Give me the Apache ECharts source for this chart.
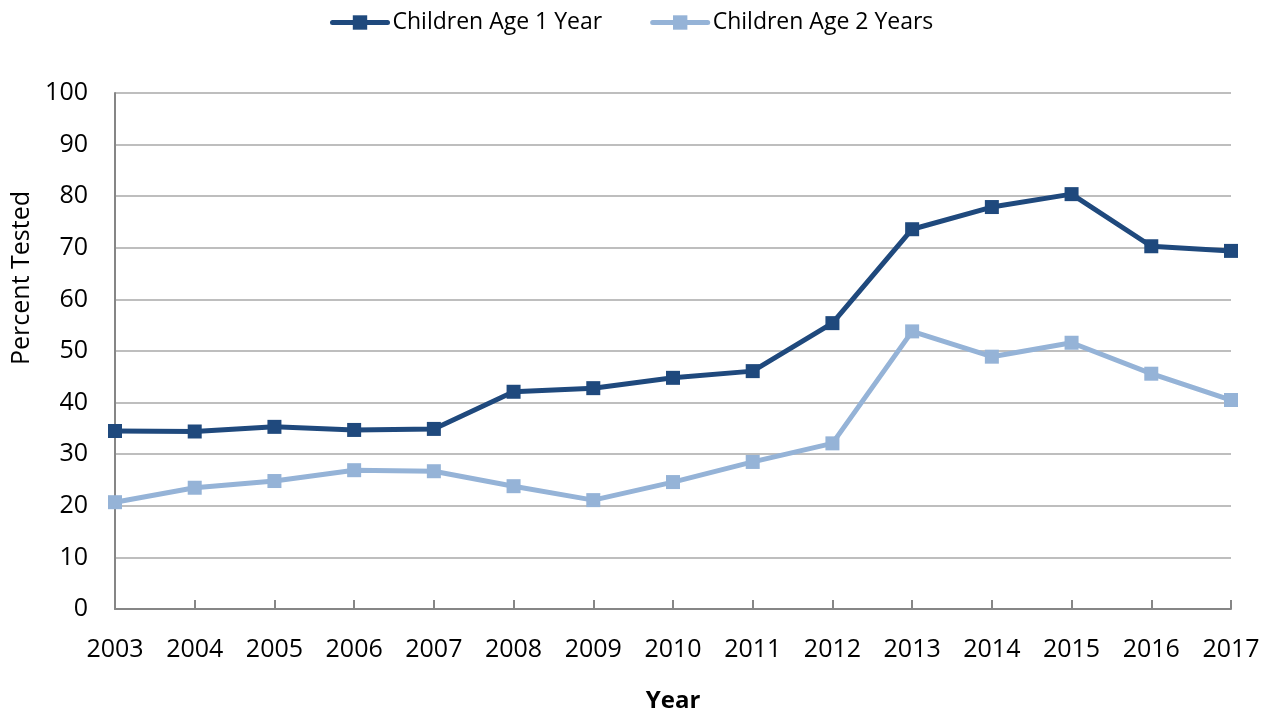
<!DOCTYPE html>
<html><head><meta charset="utf-8">
<script src="https://cdn.jsdelivr.net/npm/echarts@6/dist/echarts.min.js"></script>
<style>html,body{margin:0;padding:0;background:#fff}#c{width:1274px;height:710px}</style>
</head><body><div id="c"></div>
<script>
const years = ['2003','2004','2005','2006','2007','2008','2009','2010','2011','2012','2013','2014','2015','2016','2017'];
const age1 = [34.5,34.4,35.3,34.7,34.9,42.1,42.8,44.8,46.1,55.4,73.6,77.9,80.4,70.3,69.4];
const age2 = [20.7,23.5,24.8,26.9,26.7,23.8,21.1,24.6,28.5,32.1,53.8,48.9,51.6,45.6,40.5];
const font = 'Open Sans';
const chart = echarts.init(document.getElementById('c'));
chart.setOption({
  animation: false,
  textStyle: {fontFamily: font},
  legend: {
    top: 11, left: 330, padding: 0, itemWidth: 55, itemHeight: 18, itemGap: 48,
    lineStyle: {width: 5, cap: 'round'},
    textStyle: {fontSize: 23, color: '#000', fontFamily: font},
    data: ['Children Age 1 Year', 'Children Age 2 Years']
  },
  grid: {left: 115, right: 43, top: 93, bottom: 101, outerBoundsMode: 'none', containLabel: false},
  xAxis: {
    type: 'category', data: years, boundaryGap: false,
    name: 'Year', nameLocation: 'middle', nameGap: 80,
    nameTextStyle: {fontSize: 24, fontWeight: 'bold', color: '#000'},
    axisLine: {lineStyle: {color: '#868686', width: 2}},
    axisTick: {inside: true, length: 9, lineStyle: {color: '#868686', width: 2}},
    axisLabel: {fontSize: 25, color: '#000', margin: 28}
  },
  yAxis: {
    type: 'value', min: 0, max: 100, interval: 10,
    name: 'Percent Tested', nameLocation: 'middle', nameGap: 80,
    nameTextStyle: {fontSize: 25, color: '#000', padding: [0, 0, 0, 146]},
    axisLine: {show: true, lineStyle: {color: '#868686', width: 2}},
    axisTick: {show: false},
    axisLabel: {fontSize: 25, color: '#000', margin: 27},
    splitLine: {lineStyle: {color: '#BEBEBE', width: 2}}
  },
  series: [
    {name: 'Children Age 1 Year', type: 'line', data: age1, symbol: 'rect', symbolSize: 14,
     color: '#1F497D', lineStyle: {width: 5, color: '#1F497D'}, itemStyle: {color: '#1F497D'}},
    {name: 'Children Age 2 Years', type: 'line', data: age2, symbol: 'rect', symbolSize: 14,
     color: '#95B3D7', lineStyle: {width: 5, color: '#95B3D7'}, itemStyle: {color: '#95B3D7'}}
  ]
});
</script></body></html>
